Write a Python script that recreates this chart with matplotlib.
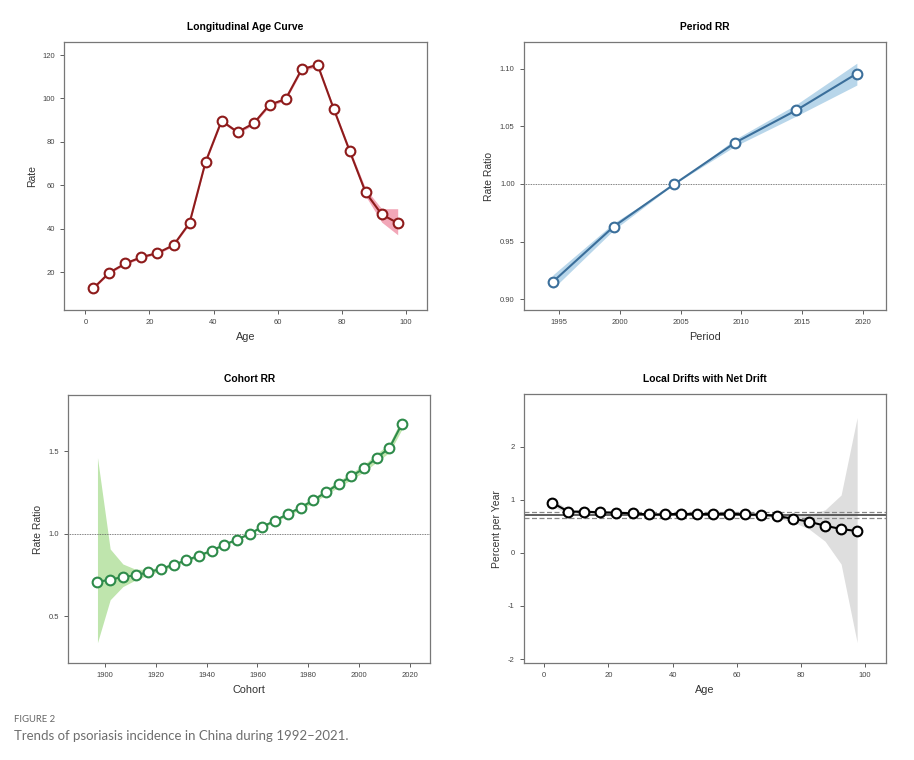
import numpy as np
import matplotlib
matplotlib.use("Agg")
import matplotlib.pyplot as plt

plt.rcParams['font.family'] = ['Liberation Sans', 'DejaVu Sans']
plt.rcParams['axes.unicode_minus'] = False

# Longitudinal age curve
ages = [2.5, 7.5, 12.5, 17.5, 22.5, 27.5, 32.5, 37.5, 42.5, 47.5,
        52.5, 57.5, 62.5, 67.5, 72.5, 77.5, 82.5, 87.5, 92.5, 97.5]
age_rate = [12.6, 19.8, 24.0, 26.9, 28.8, 32.4, 42.6, 70.7, 89.7, 84.5,
            88.5, 97.1, 99.7, 113.4, 115.5, 95.3, 75.8, 56.7, 46.6, 42.6]
age_lo = [12.2, 19.3, 23.5, 26.4, 28.3, 31.9, 42.0, 70.0, 89.0, 83.8,
          87.8, 96.4, 99.0, 112.6, 114.6, 94.4, 74.7, 55.0, 43.0, 37.2]
age_hi = [13.0, 20.3, 24.5, 27.4, 29.3, 32.9, 43.2, 71.4, 90.4, 85.2,
          89.2, 97.8, 100.4, 114.2, 116.4, 96.2, 76.9, 58.4, 49.2, 49.2]

# Period RR
periods = [1994.5, 1999.5, 2004.5, 2009.5, 2014.5, 2019.5]
period_rr = [0.915, 0.963, 1.000, 1.036, 1.064, 1.096]
period_lo = [0.909, 0.960, 1.000, 1.033, 1.059, 1.086]
period_hi = [0.921, 0.966, 1.000, 1.039, 1.069, 1.105]

# Cohort RR
cohorts = [1897, 1902, 1907, 1912, 1917, 1922, 1927, 1932, 1937, 1942,
           1947, 1952, 1957, 1962, 1967, 1972, 1977, 1982, 1987, 1992,
           1997, 2002, 2007, 2012, 2017]
cohort_rr = [0.708, 0.722, 0.738, 0.748, 0.767, 0.787, 0.813, 0.839, 0.868, 0.898,
             0.934, 0.965, 1.000, 1.043, 1.080, 1.120, 1.159, 1.203, 1.252, 1.302,
             1.348, 1.397, 1.460, 1.520, 1.668]
cohort_lo = [0.340, 0.600, 0.680, 0.720, 0.750, 0.776, 0.803, 0.830, 0.860, 0.891,
             0.928, 0.960, 0.996, 1.036, 1.071, 1.110, 1.147, 1.189, 1.236, 1.284,
             1.328, 1.375, 1.435, 1.493, 1.635]
cohort_hi = [1.462, 0.908, 0.817, 0.785, 0.785, 0.798, 0.823, 0.848, 0.876, 0.905,
             0.940, 0.970, 1.004, 1.050, 1.089, 1.130, 1.171, 1.217, 1.268, 1.320,
             1.368, 1.419, 1.485, 1.547, 1.701]

# Local drifts
drift_ages = ages
drift = [0.945, 0.776, 0.776, 0.763, 0.757, 0.744, 0.725, 0.725, 0.738, 0.731,
         0.731, 0.738, 0.725, 0.719, 0.694, 0.644, 0.587, 0.512, 0.449, 0.411]
drift_lo = [0.88, 0.73, 0.74, 0.73, 0.73, 0.72, 0.70, 0.70, 0.71, 0.71,
            0.71, 0.71, 0.70, 0.69, 0.66, 0.58, 0.45, 0.22, -0.21, -1.69]
drift_hi = [1.01, 0.82, 0.81, 0.80, 0.79, 0.77, 0.75, 0.75, 0.76, 0.76,
            0.76, 0.76, 0.75, 0.75, 0.73, 0.71, 0.72, 0.81, 1.09, 2.55]
net_drift = 0.706
net_lo = 0.656
net_hi = 0.763

fig = plt.figure(figsize=(9.14, 7.6), dpi=100)

spine_col = '#777777'


def style(ax, title, xlabel, ylabel):
    ax.set_title(title, fontsize=7.4, fontweight='bold', pad=9)
    ax.set_xlabel(xlabel, fontsize=7.8, color='#333333')
    ax.set_ylabel(ylabel, fontsize=7.5, color='#333333')
    ax.tick_params(labelsize=5.5, colors='#444444', length=3, width=0.6)
    for s in ax.spines.values():
        s.set_color(spine_col)
        s.set_linewidth(0.9)


def curve(ax, x, y, lo, hi, line_col, fill_col, ms=7):
    ax.fill_between(x, lo, hi, color=fill_col, lw=0)
    ax.plot(x, y, color=line_col, lw=1.5, marker='o', ms=ms,
            mfc='white', mec=line_col, mew=1.5)


ax1 = fig.add_axes([0.070, 0.592, 0.397, 0.3527])
curve(ax1, ages, age_rate, age_lo, age_hi, '#8e1b1b', '#f2a7b8')
ax1.set_xlim(-6.7, 106.6)
ax1.set_ylim(2.5, 126)
ax1.set_xticks([0, 20, 40, 60, 80, 100])
ax1.set_yticks([20, 40, 60, 80, 100, 120])
style(ax1, 'Longitudinal Age Curve', 'Age', 'Rate')

ax2 = fig.add_axes([0.573, 0.592, 0.3964, 0.3527])
ax2.axhline(1.0, color='#555555', lw=0.6, ls=(0, (1, 1)))
curve(ax2, periods, period_rr, period_lo, period_hi, '#3b6f9b', '#b8d6ea')
ax2.set_xlim(1992.1, 2021.9)
ax2.set_ylim(0.8904, 1.1234)
ax2.set_xticks([1995, 2000, 2005, 2010, 2015, 2020])
ax2.set_yticks([0.90, 0.95, 1.00, 1.05, 1.10])
ax2.set_yticklabels(['0.90', '0.95', '1.00', '1.05', '1.10'])
style(ax2, 'Period RR', 'Period', 'Rate Ratio')

ax3 = fig.add_axes([0.0747, 0.1272, 0.3958, 0.3531])
ax3.axhline(1.0, color='#555555', lw=0.6, ls=(0, (1, 1)))
curve(ax3, cohorts, cohort_rr, cohort_lo, cohort_hi, '#2e8b4a', '#bfe5ad')
ax3.set_xlim(1885.5, 2028)
ax3.set_ylim(0.215, 1.841)
ax3.set_xticks([1900, 1920, 1940, 1960, 1980, 2000, 2020])
ax3.set_yticks([0.5, 1.0, 1.5])
style(ax3, 'Cohort RR', 'Cohort', 'Rate Ratio')

ax4 = fig.add_axes([0.573, 0.1272, 0.3964, 0.354])
ax4.fill_between(drift_ages, drift_lo, drift_hi, color='#dedede', lw=0)
ax4.axhline(net_drift, color='#444444', lw=1.2)
ax4.axhline(net_lo, color='#888888', lw=0.9, ls=(0, (4, 2)))
ax4.axhline(net_hi, color='#888888', lw=0.9, ls=(0, (4, 2)))
ax4.plot(drift_ages, drift, color='black', lw=1.5, marker='o', ms=7,
         mfc='white', mec='black', mew=1.5)
ax4.set_xlim(-6.4, 106.5)
ax4.set_ylim(-2.08, 2.987)
ax4.set_xticks([0, 20, 40, 60, 80, 100])
ax4.set_yticks([-2, -1, 0, 1, 2])
style(ax4, 'Local Drifts with Net Drift', 'Age', 'Percent per Year')

fig.text(0.0153, 1 - 719 / 760, 'FIGURE 2', fontsize=6.8, color='#666666',
         family=['Lato', 'DejaVu Sans'], va='center')
fig.text(0.0153, 1 - 736 / 760,
         'Trends of psoriasis incidence in China during 1992\u20132021.',
         fontsize=9.5, color='#6e6e6e', family=['Lato', 'DejaVu Sans'],
         va='center')

fig.savefig('out.png', dpi=100)
